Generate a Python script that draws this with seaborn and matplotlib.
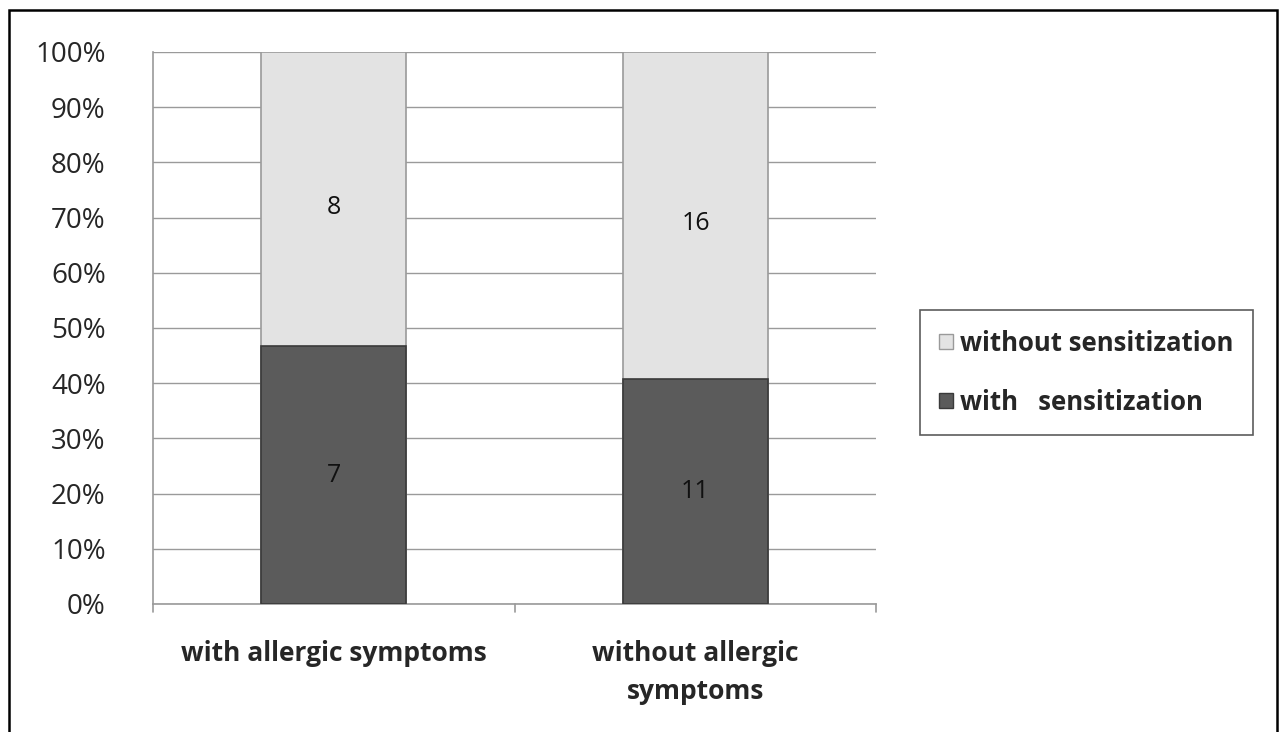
import pandas as pd
import seaborn as sns
import matplotlib.pyplot as plt
from matplotlib.patches import Patch, Rectangle
from matplotlib.ticker import PercentFormatter

# ========= DATA =========
categories = ["with allergic symptoms", "without allergic\nsymptoms"]
with_sens = [7, 11]
without_sens = [8, 16]

df = pd.DataFrame({"group": categories, "with": with_sens, "without": without_sens})
df["total"] = df["with"] + df["without"]
df["pct_with"] = df["with"] / df["total"] * 100
df["pct_total"] = 100.0

DARK = "#5b5b5b"
LIGHT = "#e3e3e3"

sns.set_theme(style="white")
plt.rcParams["font.family"] = ["Open Sans", "DejaVu Sans"]

fig = plt.figure(figsize=(12.85, 7.32), dpi=100)
ax = fig.add_axes([0.119, 0.175, 0.563, 0.754])

sns.barplot(data=df, x="group", y="pct_total", color=LIGHT, width=0.4,
            edgecolor="#9a9a9a", linewidth=1.2, saturation=1, ax=ax, zorder=3)
sns.barplot(data=df, x="group", y="pct_with", color=DARK, width=0.4,
            edgecolor="#3a3a3a", linewidth=1.2, saturation=1, ax=ax, zorder=4)

# count labels in the middle of each segment
for i, row in df.iterrows():
    ax.text(i, row["pct_with"] / 2, str(row["with"]), ha="center", va="center",
            fontsize=18, color="#111111", zorder=5)
    ax.text(i, (row["pct_with"] + 100) / 2 - 1.5, str(row["without"]), ha="center",
            va="center", fontsize=18, color="#111111", zorder=5)

ax.set_ylim(0, 100)
ax.set_xlim(-0.5, 1.5)
ax.set_yticks(range(0, 101, 10))
ax.yaxis.set_major_formatter(PercentFormatter(decimals=0))
ax.yaxis.grid(True, color="#9a9a9a", linewidth=1)
ax.set_axisbelow(True)
ax.set_xlabel("")
ax.set_ylabel("")
ax.tick_params(axis="y", labelsize=20, pad=34, length=0)
ax.tick_params(axis="x", labelsize=19, pad=26, length=0)
for lbl in ax.get_xticklabels():
    lbl.set_fontweight("bold")
    lbl.set_linespacing(1.5)
for s in ["top", "right"]:
    ax.spines[s].set_visible(False)
for s in ["left", "bottom"]:
    ax.spines[s].set_color("#9a9a9a")
    ax.spines[s].set_linewidth(1.2)

# category boundary ticks on the x axis
for xb in [-0.5, 0.5, 1.5]:
    ax.plot([xb, xb], [0, -1.5], color="#9a9a9a", lw=1.2, clip_on=False)

handles = [Patch(facecolor=LIGHT, edgecolor="#9a9a9a", label="without sensitization"),
           Patch(facecolor=DARK, edgecolor="#3a3a3a", label="with   sensitization")]
leg = fig.legend(handles=handles, loc="center left", bbox_to_anchor=(0.706, 0.491),
                 prop={"weight": "bold", "size": 18.5}, frameon=True, fancybox=False,
                 edgecolor="#333333", handlelength=0.55, handleheight=0.55,
                 handletextpad=0.25, labelspacing=1.25, borderpad=0.75)
leg.get_frame().set_linewidth(1.2)

fig.patches.append(Rectangle((0.007, -0.01), 0.987, 0.997, transform=fig.transFigure,
                             fill=False, edgecolor="black", linewidth=1.8))

fig.savefig("out.png", dpi=100)
